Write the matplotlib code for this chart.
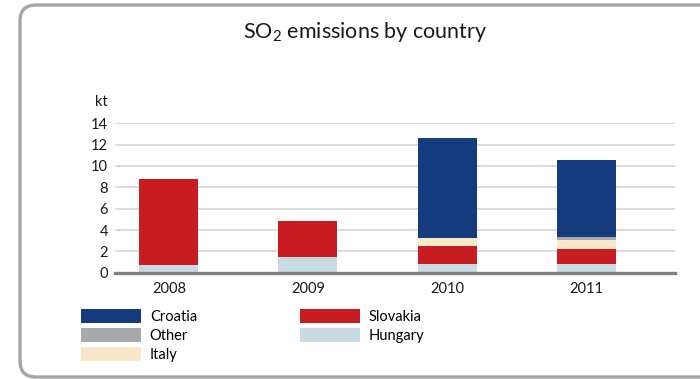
import numpy as np
import matplotlib.pyplot as plt
from matplotlib.patches import FancyBboxPatch

plt.rcParams['font.family'] = ['Lato', 'DejaVu Sans']

years = ['2008', '2009', '2010', '2011']
hungary = [0.75, 1.5, 0.82, 0.82]
slovakia = [8.0, 3.35, 1.68, 1.4]
italy = [0.0, 0.0, 0.78, 0.87]
other = [0.0, 0.0, 0.0, 0.28]
croatia = [0.0, 0.0, 9.37, 7.19]

# stacking order bottom -> top
series = [
    ('Hungary', hungary, '#c9dae2'),
    ('Slovakia', slovakia, '#c71c22'),
    ('Italy', italy, '#f6e8c9'),
    ('Other', other, '#a7a9ac'),
    ('Croatia', croatia, '#153a7d'),
]

W, H = 700, 379
fig = plt.figure(figsize=(W / 100, H / 100), dpi=100)

# background frame (pixel coords)
bg = fig.add_axes([0, 0, 1, 1], zorder=0)
bg.set_xlim(0, W)
bg.set_ylim(H, 0)
bg.axis('off')
frame = FancyBboxPatch((20, 5), 760, 372, boxstyle='round,pad=0,rounding_size=16',
                       facecolor='white', edgecolor='#a5a5a5', linewidth=2.4)
bg.add_patch(frame)
bg.text(365, 38, r'$\mathregular{SO_2}$ emissions by country', fontsize=15.5,
        ha='center', va='baseline', color='#1a1a1a')
bg.text(95, 105.5, 'kt', fontsize=10.5, ha='left', va='baseline', color='#1a1a1a')

ax = fig.add_axes([115 / W, 1 - 272.7 / H, 560 / W, (272.7 - 123.3) / H], zorder=1)
ax.patch.set_alpha(0)

x = np.arange(len(years))
bottom = np.zeros(len(years))
handles = {}
for name, vals, col in series:
    vals = np.array(vals)
    b = ax.bar(x, vals, 0.424, bottom=bottom, color=col, zorder=2, label=name)
    handles[name] = b
    bottom += vals

ax.set_xlim(-0.387, 3.638)
ax.set_ylim(0, 14)
ax.set_yticks(range(0, 15, 2))
ax.set_xticks(x)
ax.set_xticklabels(years)
ax.grid(axis='y', color='#d4d4d4', linewidth=1.2, zorder=0)
ax.set_axisbelow(True)
for s in ax.spines.values():
    s.set_visible(False)
ax.axhline(0, color='#828282', linewidth=2.4, zorder=3, clip_on=False)
ax.tick_params(length=0, labelsize=10.5, colors='#1a1a1a')
ax.tick_params(axis='y', pad=5)
ax.tick_params(axis='x', pad=7)

order = ['Croatia', 'Other', 'Italy', 'Slovakia', 'Hungary']
fig.legend([handles[n] for n in order], order, loc='upper left',
           bbox_to_anchor=(81 / W, 1 - 309 / H), ncol=2, frameon=False,
           fontsize=10.5, handlelength=4.1, handleheight=1.05, handletextpad=0.62,
           labelspacing=0.3, columnspacing=7.05, borderpad=0, borderaxespad=0)

plt.savefig('out.png', dpi=100)
